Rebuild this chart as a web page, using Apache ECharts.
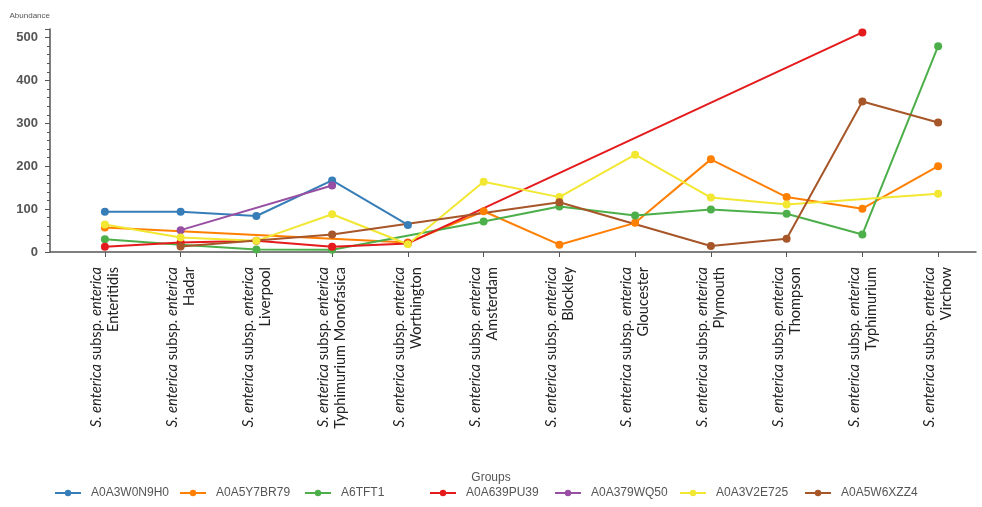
<!DOCTYPE html>
<html>
<head>
<meta charset="utf-8">
<script src="https://cdn.jsdelivr.net/npm/echarts@6/dist/echarts.min.js"></script>
<style>
html,body{margin:0;padding:0;background:#fff;}
#chart{width:982px;height:507px;}
</style>
</head>
<body>
<div id="chart"></div>
<script>
var categories = ['Enteritidis','Hadar','Liverpool','Typhimurium Monofasica','Worthington','Amsterdam','Blockley','Gloucester','Plymouth','Thompson','Typhimurium','Virchow'];
var seriesNames = ['A0A3W0N9H0','A0A5Y7BR79','A6TFT1','A0A639PU39','A0A379WQ50','A0A3V2E725','A0A5W6XZZ4'];
var colors = ['#377eb8','#ff7f00','#4daf4a','#e41a1c','#984ea3','#f2e733','#a65628'];
var vA0A3W0N9H0 = [94, 94, 84, 167, 63, null, null, null, null, null, null, null];
var vA0A5Y7BR79 = [57, null, null, null, 22, 95, 17, 68, 216, 128, 101, 200];
var vA6TFT1     = [30, 17, 6, 5, null, 71, 106, 85, 99, 89, 41, 480];
var vA0A639PU39 = [12, 22, 26, 12, 20, null, null, null, null, null, 512, null];
var vA0A379WQ50 = [null, 51, null, 155, null, null, null, null, null, null, null, null];
var vA0A3V2E725 = [64, 34, 26, 88, 18, 164, 128, 227, 127, 111, null, 136];
var vA0A5W6XZZ4 = [null, 13, null, 41, null, null, 116, null, 14, 31, 351, 302];
var yTicks = [0, 100, 200, 300, 400, 500];
var allValues = [vA0A3W0N9H0, vA0A5Y7BR79, vA6TFT1, vA0A639PU39, vA0A379WQ50, vA0A3V2E725, vA0A5W6XZZ4];

var chart = echarts.init(document.getElementById('chart'), null, {renderer:'canvas'});
var series = seriesNames.map(function(n, i){
  return {
    name: n, type: 'line', xAxisIndex: 0, yAxisIndex: 0,
    data: allValues[i], connectNulls: true,
    symbol: 'circle', symbolSize: 8,
    lineStyle: {width: 2, color: colors[i]},
    itemStyle: {color: colors[i]},
    emphasis: {disabled: true}
  };
});
var legends = seriesNames.map(function(n, i){
  return {
    data: [n], top: 487, left: 54 + i * 125, padding: [0, 0, 0, 0],
    itemWidth: 26, itemHeight: 8, itemGap: 0,
    textStyle: {fontSize: 12, color: '#555', fontFamily: 'Liberation Sans, Arial, sans-serif', padding: [0,0,0,5]}
  };
});
var option = {
  animation: false,
  color: colors,
  title: {text: 'Groups', left: 'center', top: 467, textStyle: {fontSize: 12, fontWeight: 'normal', color: '#555', fontFamily: 'Liberation Sans, Arial, sans-serif'}},
  legend: legends,
  grid: [
    {left: 67, right: 6, top: 29, bottom: 255},
    {left: 50, right: 6, top: 29, bottom: 255}
  ],
  xAxis: [
    {
      type: 'category', gridIndex: 0, data: categories, boundaryGap: true,
      axisLine: {show: false},
      axisTick: {show: true, alignWithLabel: true, length: 5, lineStyle: {color: '#555'}},
      axisLabel: {
        interval: 0, rotate: 90, margin: 15, color: '#222', fontSize: 14.6,
        fontFamily: 'Lato, sans-serif', lineHeight: 17,
        formatter: function(v){ return '{i|S. enterica} subsp. {i|enterica}\n' + v; },
        rich: {i: {fontStyle: 'italic', fontSize: 14.6, fontFamily: 'Lato, sans-serif', color: '#222', lineHeight: 17}}
      },
      splitLine: {show: false}
    },
    {
      type: 'value', gridIndex: 1, min: 0, max: 1,
      axisLine: {show: true, lineStyle: {color: '#555', width: 1.5}},
      axisTick: {show: false}, axisLabel: {show: false}, splitLine: {show: false}
    }
  ],
  yAxis: [
    {type: 'value', gridIndex: 0, min: 0, max: 520, interval: 100, show: false, splitLine: {show: false}},
    {
      type: 'value', gridIndex: 1, min: 0, max: 520, interval: 100,
      name: 'Abundance', nameLocation: 'end', nameGap: 9,
      nameTextStyle: {fontSize: 8, color: '#555', align: 'right', fontFamily: 'Liberation Sans, Arial, sans-serif'},
      axisLine: {show: true, lineStyle: {color: '#555', width: 1.5}},
      axisTick: {show: true, length: 5, lineStyle: {color: '#555'}},
      minorTick: {show: true, splitNumber: 5, length: 3, lineStyle: {color: '#555'}},
      axisLabel: {
        margin: 12, fontSize: 13, color: '#555', fontWeight: 'bold', fontFamily: 'Liberation Sans, Arial, sans-serif',
        formatter: function(v){ return yTicks.indexOf(v) >= 0 ? String(v) : ''; }
      },
      splitLine: {show: false}
    }
  ],
  series: series
};
chart.setOption(option);
</script>
</body>
</html>
